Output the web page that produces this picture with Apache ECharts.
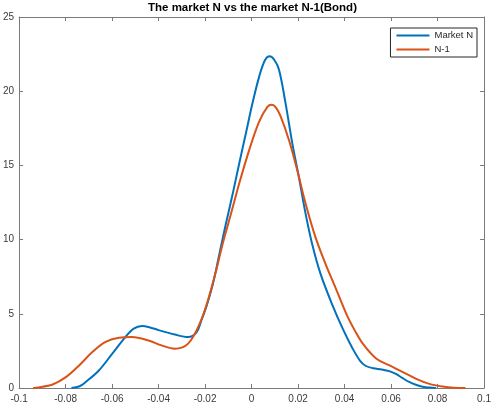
<!DOCTYPE html>
<html>
<head>
<meta charset="utf-8">
<script src="https://cdn.jsdelivr.net/npm/echarts@6/dist/echarts.min.js"></script>
<style>
  html, body { margin: 0; padding: 0; background: #fff; }
  #main { width: 494px; height: 405px; }
</style>
</head>
<body>
<div id="main"></div>
<script>
// values
const marketN_x = [-0.0775, -0.074, -0.0714, -0.0657, -0.060, -0.0543, -0.0507, -0.0472, -0.044, -0.040, -0.033, -0.0273, -0.0237, -0.0215, -0.0195, -0.0166, -0.0138, -0.011, -0.0081, -0.0053, -0.0024, 0.0004, 0.0033, 0.0058, 0.0078, 0.0098, 0.0118, 0.0146, 0.0175, 0.0203, 0.0232, 0.026, 0.0296, 0.0345, 0.0395, 0.0435, 0.0466, 0.049, 0.0523, 0.056, 0.0595, 0.0623, 0.065, 0.068, 0.071, 0.0736, 0.0765, 0.0793];
const marketN_y = [0, 0.12, 0.4, 1.18, 2.3, 3.43, 4.0, 4.18, 4.1, 3.9, 3.6, 3.43, 3.75, 4.6, 5.46, 7.04, 9.07, 11.1, 13.1, 15.15, 17.2, 19.2, 21.0, 22.1, 22.35, 22.1, 21.45, 19.2, 16.5, 14.24, 11.77, 9.74, 7.72, 5.69, 3.9, 2.65, 1.85, 1.5, 1.33, 1.25, 1.12, 0.93, 0.66, 0.39, 0.2, 0.09, 0.03, 0];

const n1_x = [-0.094, -0.0927, -0.0856, -0.0799, -0.0742, -0.0685, -0.0628, -0.0571, -0.0515, -0.0443, -0.0387, -0.033, -0.0273, -0.0223, -0.0188, -0.0152, -0.0124, -0.0088, -0.0053, -0.001, 0.0033, 0.0068, 0.0087, 0.0105, 0.0125, 0.0161, 0.0196, 0.0232, 0.0274, 0.0317, 0.036, 0.0409, 0.0445, 0.048, 0.0537, 0.0594, 0.0651, 0.0708, 0.0765, 0.0822, 0.087, 0.092];
const n1_y = [0, 0.02, 0.24, 0.73, 1.52, 2.42, 3.1, 3.39, 3.43, 3.2, 2.87, 2.65, 2.99, 4.35, 5.9, 7.94, 9.74, 11.77, 13.8, 16.05, 17.96, 18.95, 19.09, 18.9, 18.3, 16.7, 14.7, 12.45, 10.2, 8.4, 6.8, 4.95, 3.85, 2.95, 1.97, 1.52, 1.07, 0.62, 0.28, 0.1, 0.02, 0];

const seriesNames = ['Market N', 'N-1'];
const colors = ['#0072BD', '#D95319'];

const axisColor = '#7a7a7a';
const labelColor = '#3a3a3a';
const font = 'Liberation Sans, Arial, Helvetica, sans-serif';

const pairs = (xs, ys) => xs.map((x, i) => [x, ys[i]]);

const tick = { show: true, inside: true, length: 4, lineStyle: { color: axisColor } };
const line = { show: true, onZero: false, lineStyle: { color: axisColor } };

const option = {
  animation: false,
  backgroundColor: '#fff',
  title: {
    text: 'The market N vs the market N-1(Bond)',
    left: 148,
    top: 2,
    padding: 0,
    textStyle: { fontSize: 11.5, fontWeight: 'bold', color: '#000', fontFamily: font }
  },
  legend: {
    data: seriesNames,
    icon: 'rect',
    orient: 'vertical',
    right: 17,
    top: 28,
    padding: [1.5, 4, 1.5, 6],
    itemGap: 2,
    itemWidth: 33,
    itemHeight: 2,
    borderColor: '#262626',
    borderWidth: 1,
    backgroundColor: '#fff',
    textStyle: { fontSize: 9.5, lineHeight: 12, color: '#262626', fontFamily: font }
  },
  grid: { left: 19, right: 6, top: 17, bottom: 17 },
  xAxis: [
    {
      type: 'value', min: -0.1, max: 0.1, interval: 0.02,
      axisLine: line,
      axisTick: tick,
      splitLine: { show: false },
      axisLabel: {
        fontSize: 10, color: labelColor, fontFamily: font, margin: 6,
        formatter: v => String(+v.toFixed(2))
      }
    },
    {
      type: 'value', position: 'top', min: -0.1, max: 0.1, interval: 0.02,
      axisLine: line,
      axisTick: tick,
      splitLine: { show: false },
      axisLabel: { show: false }
    }
  ],
  yAxis: [
    {
      type: 'value', min: 0, max: 25, interval: 5,
      axisLine: line,
      axisTick: tick,
      splitLine: { show: false },
      axisLabel: { fontSize: 10, color: labelColor, fontFamily: font, margin: 5 }
    },
    {
      type: 'value', position: 'right', min: 0, max: 25, interval: 5,
      axisLine: line,
      axisTick: tick,
      splitLine: { show: false },
      axisLabel: { show: false }
    }
  ],
  series: [
    {
      name: seriesNames[0], type: 'line', smooth: 0.35, symbol: 'none',
      data: pairs(marketN_x, marketN_y),
      itemStyle: { color: colors[0] },
      lineStyle: { color: colors[0], width: 2 }
    },
    {
      name: seriesNames[1], type: 'line', smooth: 0.35, symbol: 'none',
      data: pairs(n1_x, n1_y),
      itemStyle: { color: colors[1] },
      lineStyle: { color: colors[1], width: 2 }
    }
  ]
};

const myChart = echarts.init(document.getElementById('main'));
myChart.setOption(option);
</script>
</body>
</html>
